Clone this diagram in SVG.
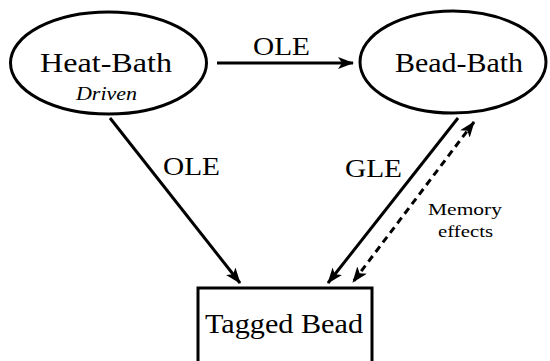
<svg xmlns="http://www.w3.org/2000/svg" width="550" height="361" viewBox="0 0 550 361">
<style>
.node{fill:#fff;stroke:#000;stroke-width:3}
.lbl{font-family:"Liberation Serif","DejaVu Serif",serif;fill:#000}
.edge{stroke:#000;stroke-width:3;fill:none}
.dash{stroke-dasharray:7,5}
</style>
<defs>
<marker id="ah" viewBox="0 0 16 12" refX="15" refY="6" markerWidth="16" markerHeight="12" markerUnits="userSpaceOnUse" orient="auto-start-reverse">
<path d="M0,0 L16,6 L0,12 L4,6 Z" fill="#000"/>
</marker>
</defs>
<rect width="550" height="361" fill="#fff"/>
<g id="connectors">
<line class="edge" x1="217" y1="63" x2="353" y2="63" marker-end="url(#ah)"/>
<line class="edge" x1="110" y1="118" x2="240" y2="283" marker-end="url(#ah)"/>
<line class="edge" x1="458" y1="118" x2="328" y2="283" marker-end="url(#ah)"/>
<line class="edge dash" x1="474" y1="122" x2="353" y2="282" marker-start="url(#ah)" marker-end="url(#ah)"/>
<text class="lbl" x="281.5" y="55" font-size="26" text-anchor="middle" textLength="57" lengthAdjust="spacingAndGlyphs">OLE</text>
<text class="lbl" x="191.5" y="175" font-size="26" text-anchor="middle" textLength="57" lengthAdjust="spacingAndGlyphs">OLE</text>
<text class="lbl" x="373.5" y="177" font-size="26" text-anchor="middle" textLength="57" lengthAdjust="spacingAndGlyphs">GLE</text>
<text class="lbl" x="465" y="215" font-size="17" text-anchor="middle" textLength="74" lengthAdjust="spacingAndGlyphs">Memory</text>
<text class="lbl" x="465.5" y="237" font-size="17" text-anchor="middle" textLength="55" lengthAdjust="spacingAndGlyphs">effects</text>
</g>
<g id="heat-bath">
<ellipse class="node" cx="108.5" cy="63" rx="98" ry="51"/>
<text class="lbl" x="106" y="72" font-size="27" text-anchor="middle" textLength="132" lengthAdjust="spacingAndGlyphs">Heat-Bath</text>
<text class="lbl" x="106.5" y="100" font-size="18" font-style="italic" text-anchor="middle" textLength="61" lengthAdjust="spacingAndGlyphs">Driven</text>
</g>
<g id="bead-bath">
<ellipse class="node" cx="453" cy="62" rx="93" ry="51"/>
<text class="lbl" x="459" y="72" font-size="27" text-anchor="middle" textLength="128" lengthAdjust="spacingAndGlyphs">Bead-Bath</text>
</g>
<g id="tagged-bead">
<rect class="node" x="198" y="288" width="174" height="80"/>
<text class="lbl" x="284" y="333" font-size="27" text-anchor="middle" textLength="158" lengthAdjust="spacingAndGlyphs">Tagged Bead</text>
</g>
</svg>
